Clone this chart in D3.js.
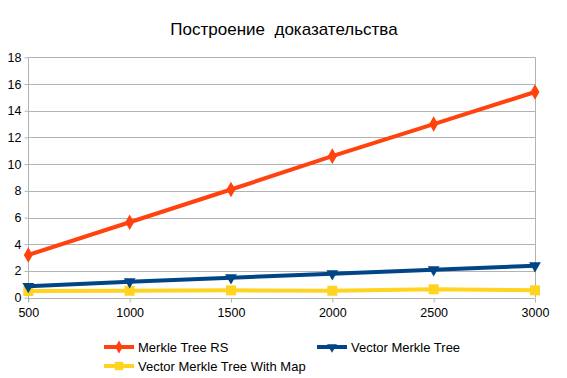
<!DOCTYPE html>
<html><head><meta charset="utf-8">
<script src="https://cdn.jsdelivr.net/npm/d3@7"></script>
<style>body{margin:0;background:#fff}svg{display:block;font-family:"Liberation Sans",Arial,sans-serif}</style>
</head><body>
<svg id="c" width="567" height="378"></svg>
<script>
const categories = [500, 1000, 1500, 2000, 2500, 3000];
const merkleRS = [3.2, 5.65, 8.1, 10.6, 13.0, 15.4];
const vectorMerkle = [0.85, 1.2, 1.5, 1.8, 2.1, 2.4];
const vectorMerkleMap = [0.5, 0.52, 0.55, 0.52, 0.63, 0.55];
const yTicks = [0, 2, 4, 6, 8, 10, 12, 14, 16, 18];
const seriesNames = ["Merkle Tree RS", "Vector Merkle Tree", "Vector Merkle Tree With Map"];
const colors = ["#ff420e", "#004586", "#ffd320"];
const title = "Построение  доказательства";

const svg = d3.select("#c");
const x = d3.scaleLinear().domain([500, 3000]).range([28.3, 535]);
const y = d3.scaleLinear().domain([0, 18]).range([297.7, 57.3]);

svg.append("text").attr("x", 284).attr("y", 35).attr("text-anchor", "middle")
  .style("white-space", "pre")
  .attr("font-size", 17).attr("fill", "#000").text(title);

// gridlines
svg.append("g").selectAll("line").data(yTicks).join("line")
  .attr("x1", x(500)).attr("x2", x(3000)).attr("y1", d => Math.round(y(d)) + 0.5).attr("y2", d => Math.round(y(d)) + 0.5)
  .attr("stroke", "#b3b3b3").attr("stroke-width", 1);
// right border
svg.append("line").attr("x1", Math.round(x(3000)) + 0.5).attr("x2", Math.round(x(3000)) + 0.5)
  .attr("y1", y(18)).attr("y2", y(0)).attr("stroke", "#b3b3b3");

// y axis
const yAxis = d3.axisLeft(y).tickValues(yTicks).tickSize(4).tickPadding(3);
const gy = svg.append("g").attr("transform", `translate(${Math.round(x(500)) + 0.5},0)`).call(yAxis);
gy.select(".domain").attr("stroke", "#b3b3b3").attr("d", `M0,${y(18)}V${y(0)+4}`);
gy.selectAll(".tick line").attr("stroke", "#b3b3b3");
gy.selectAll("text").attr("font-size", 12.5).attr("fill", "#000").attr("font-family", "Liberation Sans, Arial, sans-serif");

// x axis
const xAxis = d3.axisBottom(x).tickValues(categories).tickSize(4).tickPadding(6).tickFormat(d3.format("d"));
const gx = svg.append("g").attr("transform", `translate(0,${Math.round(y(0)) + 0.5})`).call(xAxis);
gx.select(".domain").attr("stroke", "#b3b3b3").attr("d", `M${x(500)},0H${x(3000)}`);
gx.selectAll(".tick line").attr("stroke", "#b3b3b3");
gx.selectAll("text").attr("font-size", 12.5).attr("fill", "#000").attr("font-family", "Liberation Sans, Arial, sans-serif");

const data = [merkleRS, vectorMerkle, vectorMerkleMap];
const symbols = [d3.symbolDiamond, d3.symbolTriangle, d3.symbolSquare];
const symSizes = [70, 60, 100];
const line = d3.line().x((d, i) => x(categories[i])).y(d => y(d));

[2, 1, 0].forEach(k => {
  const g = svg.append("g");
  g.append("path").attr("d", line(data[k])).attr("fill", "none")
    .attr("stroke", colors[k]).attr("stroke-width", 4).attr("stroke-linejoin", "round");
  g.selectAll("path.m").data(data[k]).join("path").attr("class", "m")
    .attr("transform", (d, i) => `translate(${x(categories[i])},${y(d)})${k === 1 ? " rotate(180)" : ""}`)
    .attr("d", d3.symbol().type(symbols[k]).size(symSizes[k])).attr("fill", colors[k]);
});

// legend
const legendPos = [[104, 347], [317, 347], [104, 366]];
seriesNames.forEach((name, k) => {
  const [lx, ly] = legendPos[k];
  const g = svg.append("g");
  g.append("line").attr("x1", lx).attr("x2", lx + 30).attr("y1", ly).attr("y2", ly)
    .attr("stroke", colors[k]).attr("stroke-width", 4);
  g.append("path").attr("transform", `translate(${lx + 15},${ly})${k === 1 ? " rotate(180)" : ""}`)
    .attr("d", d3.symbol().type(symbols[k]).size(symSizes[k] * 0.7)).attr("fill", colors[k]);
  g.append("text").attr("x", lx + 34).attr("y", ly + 4.5).attr("font-size", 13).attr("fill", "#000").text(name);
});
</script>
</body></html>
